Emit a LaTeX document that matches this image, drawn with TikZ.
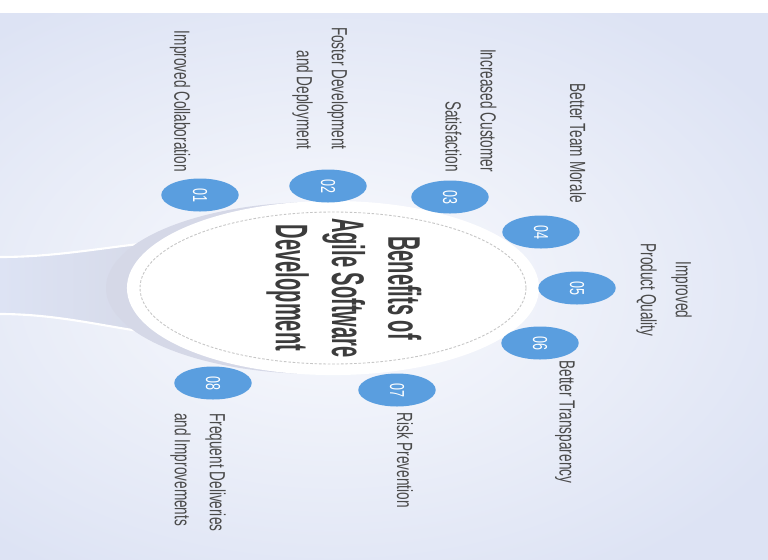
\documentclass[tikz,border=0pt]{standalone}
\usepackage{fontspec}
\setmainfont{Liberation Sans}
\newfontfamily\labelfont[FakeStretch=0.62]{Liberation Sans}
\newfontfamily\titlefont[FakeStretch=0.44]{Liberation Sans}
\usetikzlibrary{shapes.geometric, positioning}
\definecolor{bgblue}{HTML}{DDE3F4}
\definecolor{badgeblue}{HTML}{5A9EDF}
\definecolor{labelgray}{HTML}{4A4A4A}
\definecolor{titlegray}{HTML}{3C3C3C}
\definecolor{stemgray}{HTML}{D3D6E4}
\tikzstyle{badge} = [ellipse, rotate=-90, minimum width=0.66cm, minimum height=1.55cm, inner sep=0pt, fill=badgeblue, text=white, font=\labelfont\fontsize{11.5}{12}\selectfont]
\tikzstyle{benefit} = [rotate=-90, inner sep=0pt, text=labelgray, font=\labelfont\fontsize{12.5}{20}\selectfont]
\tikzstyle{heading} = [rotate=-90, align=center, text=titlegray, font=\titlefont\bfseries\fontsize{26}{32}\selectfont]
\tikzstyle{rim} = [white, line width=1.2pt]

\begin{document}
\begin{tikzpicture}[x=0.02cm, y=-0.02cm]
	\useasboundingbox (0,0) rectangle (768,559);
	\shade[inner color=white!85!bgblue, outer color=bgblue] (-190,-45) rectangle (856,621);
	\fill[white] (0,0) rectangle (768,13);

	% stem running into the hub
	\shade[left color=bgblue, right color=stemgray] (0,257) .. controls (60,257) and (110,246) .. (160,242) -- (210,242) -- (210,334) -- (160,334) .. controls (110,328) and (60,314) .. (0,314) -- cycle;
	\draw[rim] (0,257) .. controls (60,257) and (110,246) .. (160,242);
	\draw[rim] (0,314) .. controls (60,314) and (110,328) .. (160,334);

	% hub
	\fill[stemgray!80!bgblue] (318,288) ellipse [x radius=212, y radius=86];
	\draw[rim, fill=white] (333,288) ellipse [x radius=205, y radius=86];
	\draw[gray!45, line width=0.5pt, dash pattern=on 1.5pt off 1pt] (333,288) ellipse [x radius=193, y radius=76];
	\node (title) [heading] at (344,288) {Benefits of\\Agile Software\\Development};

	\node (b01) [badge] at (200,195) {01};
	\node (b02) [badge] at (328,186) {02};
	\node (b03) [badge] at (450,197) {03};
	\node (b04) [badge] at (541,232) {04};
	\node (b05) [badge] at (577,288) {05};
	\node (b06) [badge] at (540,343) {06};
	\node (b07) [badge] at (397,390) {07};
	\node (b08) [badge] at (213,383) {08};

	\node (l01) [benefit, anchor=east] at (180,172) {Improved Collaboration};
	\node (l02) [benefit, anchor=east, align=right] at (320,150) {Foster Development\\and Deployment};
	\node (l03) [benefit, anchor=east, align=right] at (471,172) {Increased Customer\\Satisfaction};
	\node (l04) [benefit, anchor=east] at (578,203) {Better Team Morale};
	\node (l05) [benefit, align=center] at (664,290) {Improved\\Product Quality};
	\node (l06) [benefit, anchor=west] at (565,360) {Better Transparency};
	\node (l07) [benefit, anchor=west] at (405,412) {Risk Prevention};
	\node (l08) [benefit, anchor=west, align=left] at (198,413) {Frequent Deliveries\\and Improvements};
\end{tikzpicture}
\end{document}
